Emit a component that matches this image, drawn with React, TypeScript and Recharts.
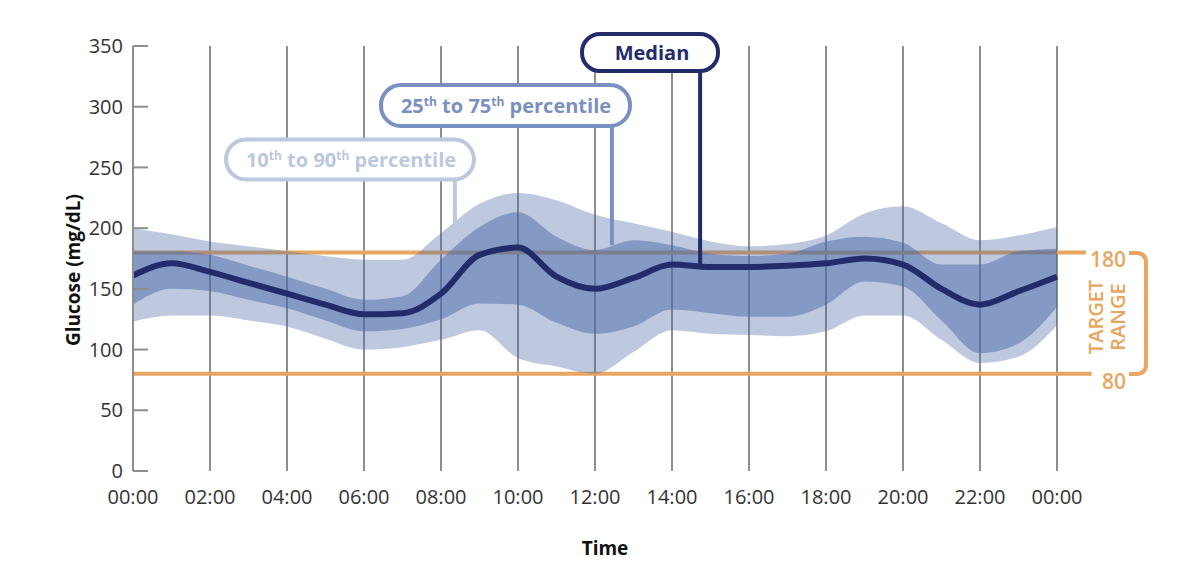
import React from "react";
import { ComposedChart, Area, Line, XAxis, YAxis, CartesianGrid, ReferenceLine } from "recharts";

// hourly profile, 00:00 .. 24:00
const HOURS = [0, 1, 2, 3, 4, 5, 6, 7, 8, 9, 10, 11, 12, 13, 14, 15, 16, 17, 18, 19, 20, 21, 22, 23, 24];
const MEDIAN = [161, 171, 164, 155, 146, 137, 129, 130, 146, 178, 184, 160, 150, 159, 170, 168, 168, 169, 171, 175, 170, 150, 137, 148, 160];
const P25 = [137, 150, 148, 141, 134, 124, 115, 117, 125, 138, 137, 122, 113, 119, 133, 130, 127, 127, 137, 156, 152, 124, 97, 105, 135];
const P75 = [181, 181, 178, 169, 160, 150, 141, 144, 174, 201, 213, 193, 182, 190, 186, 179, 177, 179, 189, 193, 188, 170, 170, 181, 183];
const P10 = [123, 128, 128, 124, 119, 109, 100, 102, 108, 116, 93, 86, 80, 98, 116, 113, 112, 111, 115, 128, 128, 108, 89, 94, 120];
const P90 = [200, 195, 189, 185, 181, 177, 174, 174, 196, 220, 229, 223, 211, 204, 197, 189, 185, 187, 194, 212, 218, 204, 190, 194, 201];

const X_TICKS = [0, 2, 4, 6, 8, 10, 12, 14, 16, 18, 20, 22, 24];
const Y_TICKS = [0, 50, 100, 150, 200, 250, 300, 350];
const TARGET_LOW = 80;
const TARGET_HIGH = 180;

const FONT = "'Open Sans', 'Noto Sans', sans-serif";
const NAVY = "#232c6b";
const MID = "#7990c0";
const LIGHT = "#bcc8dd";
const ORANGE = "#e8a660";
const GRID = "#8e8e8e";

const rows = HOURS.map((h, i) => ({
  h,
  median: MEDIAN[i],
  inner: [P25[i], P75[i]],
  outer: [P10[i], P90[i]],
}));

const fmtHour = (h: number) => `${String(h % 24).padStart(2, "0")}:00`;

const YTick = (props: any) => {
  const { x, y, payload } = props;
  return (
    <g>
      <line x1={x + 10} x2={x + 25} y1={y} y2={y} stroke={GRID} strokeWidth={2} />
      <text x={x} y={y} dy="0.36em" textAnchor="end" fontSize={20} fill="#333" fontFamily={FONT}>
        {payload.value}
      </text>
    </g>
  );
};

export default function App() {
  return (
    <div style={{ position: "absolute", left: 0, top: 0, width: 1200, height: 576, background: "#fff" }}>
      <ComposedChart width={1200} height={576} data={rows} margin={{ top: 46, right: 143, bottom: 45, left: 0 }}>
        <CartesianGrid horizontal={false} stroke={GRID} strokeWidth={2} />
        <XAxis
          dataKey="h"
          type="number"
          domain={[0, 24]}
          ticks={X_TICKS}
          tickFormatter={fmtHour}
          axisLine={false}
          tickLine={false}
          tickMargin={13}
          height={60}
          tick={{ fontSize: 20, fill: "#333", fontFamily: FONT }}
        />
        <YAxis
          domain={[0, 350]}
          ticks={Y_TICKS}
          width={133}
          axisLine={{ stroke: GRID, strokeWidth: 2 }}
          tickLine={false}
          tickSize={0}
          tickMargin={10}
          tick={<YTick />}
        />
        <ReferenceLine
          segment={[{ x: 0, y: TARGET_HIGH }, { x: 24.75, y: TARGET_HIGH }]}
          stroke={ORANGE}
          strokeWidth={4}
          ifOverflow="visible"
          zIndex={50}
        />
        <ReferenceLine
          segment={[{ x: 0, y: TARGET_LOW }, { x: 24.9, y: TARGET_LOW }]}
          stroke={ORANGE}
          strokeWidth={4}
          ifOverflow="visible"
          zIndex={50}
        />
        <Area
          type="monotone"
          dataKey="outer"
          stroke="none"
          fill="#4a6aa8"
          fillOpacity={0.36}
          isAnimationActive={false}
        />
        <Area
          type="monotone"
          dataKey="inner"
          stroke="none"
          fill="#4a6aa8"
          fillOpacity={0.5}
          isAnimationActive={false}
        />
        {/* callout stems */}
        <ReferenceLine segment={[{ x: 8.36, y: 204 }, { x: 8.36, y: 240 }]} stroke={LIGHT} strokeWidth={4} ifOverflow="visible" />
        <ReferenceLine segment={[{ x: 12.44, y: 186 }, { x: 12.44, y: 284 }]} stroke={MID} strokeWidth={4} ifOverflow="visible" />
        <ReferenceLine segment={[{ x: 14.73, y: 168 }, { x: 14.73, y: 329 }]} stroke={NAVY} strokeWidth={4} ifOverflow="visible" zIndex={450} />
        <Line
          type="monotone"
          dataKey="median"
          stroke={NAVY}
          strokeWidth={6}
          dot={false}
          activeDot={false}
          isAnimationActive={false}
        />
      </ComposedChart>

      <svg width={1200} height={576} style={{ position: "absolute", left: 0, top: 0, pointerEvents: "none" }}>
        <text
          transform="translate(73,270) rotate(-90)"
          textAnchor="middle"
          dominantBaseline="central"
          fontSize={19}
          fontWeight={700}
          fill="#111"
          fontFamily={FONT}
        >
          Glucose (mg/dL)
        </text>
        <text x={605} y={548} textAnchor="middle" dominantBaseline="central" fontSize={19} fontWeight={700} fill="#111" fontFamily={FONT}>
          Time
        </text>

        {/* callout boxes */}
        <rect x={226} y={139.5} width={248} height={40} rx={20} fill="#fff" stroke={LIGHT} strokeWidth={4} />
        <text x={351} y={167} textAnchor="middle" fontSize={20} fontWeight={700} fill={LIGHT} fontFamily={FONT}>
          10<tspan dy={-7} fontSize={12}>th</tspan>
          <tspan dy={7}> to 90</tspan>
          <tspan dy={-7} fontSize={12}>th</tspan>
          <tspan dy={7}> percentile</tspan>
        </text>
        <rect x={381} y={85} width={249} height={41} rx={20} fill="#fff" stroke={MID} strokeWidth={4} />
        <text x={506} y={113} textAnchor="middle" fontSize={20} fontWeight={700} fill={MID} fontFamily={FONT}>
          25<tspan dy={-7} fontSize={12}>th</tspan>
          <tspan dy={7}> to 75</tspan>
          <tspan dy={-7} fontSize={12}>th</tspan>
          <tspan dy={7}> percentile</tspan>
        </text>
        <rect x={582} y={34} width={136} height={37} rx={18} fill="#fff" stroke={NAVY} strokeWidth={4} />
        <text x={652} y={60} textAnchor="middle" fontSize={20} fontWeight={700} fill={NAVY} fontFamily={FONT}>
          Median
        </text>

        {/* target range bracket */}
        <text x={1126} y={259} textAnchor="end" dominantBaseline="central" fontSize={21} fontWeight={600} fill={ORANGE} fontFamily={FONT}>
          {TARGET_HIGH}
        </text>
        <text x={1126} y={381} textAnchor="end" dominantBaseline="central" fontSize={21} fontWeight={600} fill={ORANGE} fontFamily={FONT}>
          {TARGET_LOW}
        </text>
        <path
          d="M1129,253 L1136,253 Q1146,253 1146,263 L1146,364 Q1146,374 1136,374 L1129,374"
          fill="none"
          stroke={ORANGE}
          strokeWidth={4}
        />
        <text transform="translate(1095,317) rotate(-90)" textAnchor="middle" dominantBaseline="central" fontSize={20} fontWeight={600} fill={ORANGE} fontFamily={FONT}>
          TARGET
        </text>
        <text transform="translate(1117,317) rotate(-90)" textAnchor="middle" dominantBaseline="central" fontSize={20} fontWeight={600} fill={ORANGE} fontFamily={FONT}>
          RANGE
        </text>
      </svg>
    </div>
  );
}
